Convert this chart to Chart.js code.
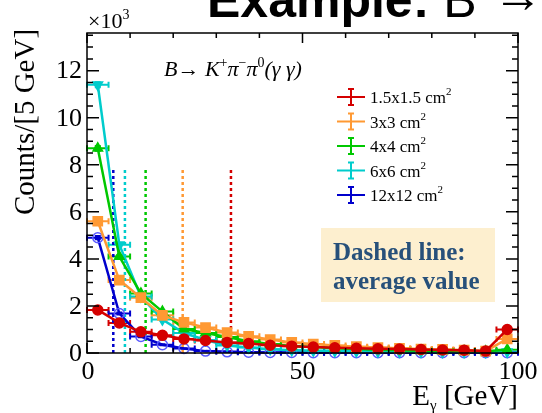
<!DOCTYPE html>
<html>
<head>
<meta charset="utf-8">
<script src="https://cdn.jsdelivr.net/npm/chart.js@4.4.1/dist/chart.umd.min.js"></script>
<style>
  html, body { margin: 0; padding: 0; background: #fff; }
  #grafico { display: block; }
</style>
</head>
<body>
<canvas id="grafico" width="542" height="413"></canvas>
<script>
// centros dos bins de 5 GeV
const centrosBins = [2.5, 7.5, 12.5, 17.5, 22.5, 27.5, 32.5, 37.5, 42.5, 47.5, 52.5, 57.5, 62.5, 67.5, 72.5, 77.5, 82.5, 87.5, 92.5, 97.5]
const meiaLarguraBin = 2.5

// contagens (x10^3) por tamanho de cristal
const nomesSeries = ['1.5x1.5 cm', '3x3 cm', '4x4 cm', '6x6 cm', '12x12 cm']
const contagens15 = [1.83, 1.28, 0.90, 0.75, 0.60, 0.53, 0.45, 0.40, 0.33, 0.29, 0.25, 0.22, 0.20, 0.18, 0.17, 0.15, 0.13, 0.12, 0.08, 1.00]
const contagens3 = [5.60, 3.10, 2.35, 1.60, 1.30, 1.08, 0.87, 0.71, 0.57, 0.45, 0.38, 0.32, 0.27, 0.23, 0.20, 0.17, 0.15, 0.12, 0.08, 0.60]
const contagens4 = [8.70, 4.10, 2.53, 1.76, 1.02, 0.85, 0.68, 0.50, 0.38, 0.30, 0.25, 0.20, 0.17, 0.14, 0.12, 0.10, 0.09, 0.08, 0.07, 0.14]
const contagens6 = [11.40, 4.60, 2.40, 1.42, 0.85, 0.55, 0.32, 0.23, 0.16, 0.12, 0.10, 0.08, 0.07, 0.06, 0.05, 0.05, 0.04, 0.04, 0.04, 0.05]
const contagens12 = [4.90, 1.68, 0.70, 0.35, 0.19, 0.08, 0.05, 0.03, 0.02, 0.02, 0.01, 0.01, 0.01, 0.01, 0.01, 0.01, 0.01, 0.01, 0.01, 0.01]

// erros verticais (x10^3)
const erros15 = [0.05, 0.04, 0.03, 0.03, 0.03, 0.02, 0.02, 0.02, 0.02, 0.02, 0.02, 0.01, 0.01, 0.01, 0.01, 0.01, 0.01, 0.01, 0.01, 0.03]
const erros3 = [0.08, 0.06, 0.05, 0.04, 0.04, 0.03, 0.03, 0.03, 0.02, 0.02, 0.02, 0.02, 0.02, 0.02, 0.01, 0.01, 0.01, 0.01, 0.01, 0.02]
const erros4 = [0.10, 0.07, 0.05, 0.04, 0.03, 0.03, 0.03, 0.02, 0.02, 0.02, 0.02, 0.01, 0.01, 0.01, 0.01, 0.01, 0.01, 0.01, 0.01, 0.01]
const erros6 = [0.11, 0.07, 0.05, 0.04, 0.03, 0.02, 0.02, 0.02, 0.01, 0.01, 0.01, 0.01, 0.01, 0.01, 0.01, 0.01, 0.01, 0.01, 0.01, 0.01]
const erros12 = [0.07, 0.04, 0.03, 0.02, 0.01, 0.01, 0.01, 0.01, 0.01, 0.01, 0.01, 0.01, 0.01, 0.01, 0.01, 0.01, 0.01, 0.01, 0.01, 0.01]

// valor medio de E_gamma (linhas pontilhadas) e altura delas
const valoresMedios = [33.4, 22.2, 13.6, 8.8, 6.1]
const alturaLinhaMedia = 7.9

// eixos
const ticksX = [0, 50, 100]
const ticksY = [0, 2, 4, 6, 8, 10, 12]

const cores = ['#d40000', '#ff9933', '#00c800', '#00cccc', '#0000cc']
const contagens = [contagens15, contagens3, contagens4, contagens6, contagens12]
const erros = [erros15, erros3, erros4, erros6, erros12]

function estiloMarcador(i) {
    if (i == 0) return { pointStyle: 'circle', pointRadius: 5, pointBackgroundColor: cores[0], pointBorderColor: cores[0], pointRotation: 0 }
    if (i == 1) return { pointStyle: 'rect', pointRadius: 6.5, pointBackgroundColor: cores[1], pointBorderColor: cores[1], pointRotation: 0 }
    if (i == 2) return { pointStyle: 'triangle', pointRadius: 5.5, pointBackgroundColor: cores[2], pointBorderColor: cores[2], pointRotation: 0 }
    if (i == 3) return { pointStyle: 'triangle', pointRadius: 5.5, pointBackgroundColor: cores[3], pointBorderColor: cores[3], pointRotation: 180 }
    return { pointStyle: 'circle', pointRadius: 5, pointBackgroundColor: 'rgba(0,0,0,0)', pointBorderColor: '#5a5aff', pointRotation: 0 }
}

let datasets = []
for (let i = 0; i < contagens.length; i++) {
    let dataset = Object.assign({
        type: 'line',
        label: nomesSeries[i],
        data: centrosBins.map((x, j) => ({ x: x, y: contagens[i][j] })),
        borderColor: cores[i],
        borderWidth: 2.5,
        pointBorderWidth: 1.5,
        tension: 0,
        clip: false
    }, estiloMarcador(i))
    datasets.push(dataset)
}
for (let i = 0; i < valoresMedios.length; i++) {
    datasets.push({
        type: 'line',
        label: 'media ' + nomesSeries[i],
        data: [{ x: valoresMedios[i], y: 0 }, { x: valoresMedios[i], y: alturaLinhaMedia }],
        borderColor: cores[i],
        borderWidth: 2.5,
        borderDash: [3, 3],
        pointRadius: 0
    })
}

const serif = '"Liberation Serif", "DejaVu Serif", serif'

// escreve pedacos de texto em sequencia (para sobrescritos/subscritos)
function escreverPartes(ctx, x, y, partes) {
    for (let p of partes) {
        ctx.font = p.font
        ctx.fillText(p.t, x, y + (p.dy || 0))
        x += ctx.measureText(p.t).width + (p.gap || 0)
    }
    return x
}

function desenharMarcador(ctx, i, x, y) {
    let m = estiloMarcador(i)
    ctx.save()
    ctx.lineWidth = 1.5
    ctx.fillStyle = m.pointBackgroundColor
    ctx.strokeStyle = m.pointBorderColor
    Chart.helpers.drawPoint(ctx, { pointStyle: m.pointStyle, rotation: m.pointRotation, borderWidth: 1.5 }, x, y)
    ctx.restore()
}

const moldura = {
    id: 'moldura',
    beforeDatasetsDraw(chart) {
        // barras de erro
        const ctx = chart.ctx
        const sx = chart.scales.x, sy = chart.scales.y
        ctx.save()
        ctx.lineWidth = 2
        for (let i = 0; i < contagens.length; i++) {
            ctx.strokeStyle = cores[i]
            for (let j = 0; j < centrosBins.length; j++) {
                let x0 = sx.getPixelForValue(centrosBins[j] - meiaLarguraBin)
                let x1 = sx.getPixelForValue(centrosBins[j] + meiaLarguraBin)
                let xc = sx.getPixelForValue(centrosBins[j])
                let yc = sy.getPixelForValue(contagens[i][j])
                let ya = sy.getPixelForValue(contagens[i][j] + erros[i][j])
                let yb = sy.getPixelForValue(contagens[i][j] - erros[i][j])
                ctx.beginPath()
                ctx.moveTo(x0, yc); ctx.lineTo(x1, yc)
                ctx.moveTo(x0, yc - 3); ctx.lineTo(x0, yc + 3)
                ctx.moveTo(x1, yc - 3); ctx.lineTo(x1, yc + 3)
                ctx.moveTo(xc, ya); ctx.lineTo(xc, yb)
                ctx.moveTo(xc - 3, ya); ctx.lineTo(xc + 3, ya)
                ctx.moveTo(xc - 3, yb); ctx.lineTo(xc + 3, yb)
                ctx.stroke()
            }
        }
        ctx.restore()
    },
    afterDraw(chart) {
        const ctx = chart.ctx
        const a = chart.chartArea
        const sx = chart.scales.x, sy = chart.scales.y
        ctx.save()

        // moldura e ticks para dentro
        ctx.strokeStyle = '#000'
        ctx.lineWidth = 1.5
        ctx.strokeRect(a.left, a.top, a.right - a.left, a.bottom - a.top)
        ctx.beginPath()
        for (let v = 0; v <= 100; v += 10) {
            let px = sx.getPixelForValue(v)
            let len = (v % 50 == 0) ? 10 : 5
            ctx.moveTo(px, a.bottom); ctx.lineTo(px, a.bottom - len)
            ctx.moveTo(px, a.top); ctx.lineTo(px, a.top + len)
        }
        for (let v = 0; v <= 13.5; v += 0.5) {
            let py = sy.getPixelForValue(v)
            let len = (v % 2 == 0) ? 12 : 6
            ctx.moveTo(a.left, py); ctx.lineTo(a.left + len, py)
            ctx.moveTo(a.right, py); ctx.lineTo(a.right - len, py)
        }
        ctx.stroke()

        // rotulos dos ticks
        ctx.fillStyle = '#000'
        ctx.font = '26px ' + serif
        ctx.textAlign = 'right'
        ctx.textBaseline = 'middle'
        for (let v of ticksY) ctx.fillText(String(v), a.left - 5, sy.getPixelForValue(v) + 1)
        ctx.textAlign = 'center'
        ctx.textBaseline = 'alphabetic'
        for (let v of ticksX) ctx.fillText(String(v), sx.getPixelForValue(v) + (v == 0 ? 1 : 0), a.bottom + 26)

        ctx.textAlign = 'left'
        escreverPartes(ctx, a.left + 1, 28, [{ t: '\u00d710', font: '22px ' + serif }, { t: '3', font: '14px ' + serif, dy: -9 }])

        // titulos dos eixos
        ctx.textAlign = 'right'
        let xf = a.right
        ctx.font = '29px ' + serif
        let wGev = ctx.measureText(' [GeV]').width
        ctx.fillText(' [GeV]', xf, 405)
        ctx.textAlign = 'left'
        ctx.font = '15px ' + serif
        let wGama = ctx.measureText('\u03b3').width
        ctx.fillText('\u03b3', xf - wGev - wGama, 410)
        ctx.font = '29px ' + serif
        let wE = ctx.measureText('E').width
        ctx.fillText('E', xf - wGev - wGama - wE, 405)

        ctx.save()
        ctx.translate(34, 215)
        ctx.rotate(-Math.PI / 2)
        ctx.font = '29px ' + serif
        ctx.textAlign = 'left'
        ctx.fillText('Counts/[5 GeV]', 0, 0)
        ctx.restore()

        // canal de decaimento
        const it = 'italic 22px ' + serif
        const sup = '14px ' + serif
        escreverPartes(ctx, 164, 76, [
            { t: 'B', font: it },
            { t: '\u2192 ', font: '22px ' + serif },
            { t: 'K', font: it },
            { t: '+', font: sup, dy: -9 },
            { t: '\u03c0', font: it },
            { t: '\u2212', font: sup, dy: -9 },
            { t: '\u03c0', font: it },
            { t: '0', font: sup, dy: -9 },
            { t: '(\u03b3 \u03b3)', font: it }
        ])

        // legenda
        const yLeg = [97, 121.5, 146, 170.5, 195]
        for (let i = 0; i < nomesSeries.length; i++) {
            let y = yLeg[i]
            ctx.strokeStyle = cores[i]
            ctx.lineWidth = 2
            ctx.beginPath()
            ctx.moveTo(337, y); ctx.lineTo(365, y)
            ctx.moveTo(351, y - 8); ctx.lineTo(351, y + 8)
            ctx.moveTo(348, y - 8); ctx.lineTo(354, y - 8)
            ctx.moveTo(348, y + 8); ctx.lineTo(354, y + 8)
            ctx.stroke()
            desenharMarcador(ctx, i, 351, y)
            ctx.fillStyle = '#000'
            escreverPartes(ctx, 370, y + 6, [{ t: nomesSeries[i], font: '17px ' + serif }, { t: '2', font: '11px ' + serif, dy: -8 }])
        }

        // caixa de anotacao
        ctx.fillStyle = '#fdefcf'
        ctx.fillRect(321, 228, 174, 74)
        ctx.fillStyle = '#27507a'
        ctx.font = 'bold 25px ' + serif
        ctx.fillText('Dashed line:', 333, 260)
        ctx.fillText('average value', 333, 289)

        // titulo do slide (cortado no topo)
        ctx.fillStyle = '#000'
        escreverPartes(ctx, 207, 17, [
            { t: 'Example:', font: 'bold 50px "Liberation Sans", Arial, sans-serif' },
            { t: ' B', font: '50px "Liberation Sans", Arial, sans-serif' }
        ])
        ctx.font = '50px "Liberation Sans", Arial, sans-serif'
        ctx.fillText('\u2192', 493, 12)
        ctx.restore()
    }
}

const grafico = new Chart(document.getElementById('grafico'), {
    type: 'line',
    data: { datasets: datasets },
    options: {
        responsive: false,
        animation: false,
        devicePixelRatio: 1,
        layout: { padding: { left: 87, right: 24, top: 33, bottom: 60 } },
        plugins: { legend: { display: false }, tooltip: { enabled: false } },
        scales: {
            x: { type: 'linear', min: 0, max: 100, display: false },
            y: { type: 'linear', min: 0, max: 13.6, display: false }
        }
    },
    plugins: [moldura]
})
</script>
</body>
</html>
